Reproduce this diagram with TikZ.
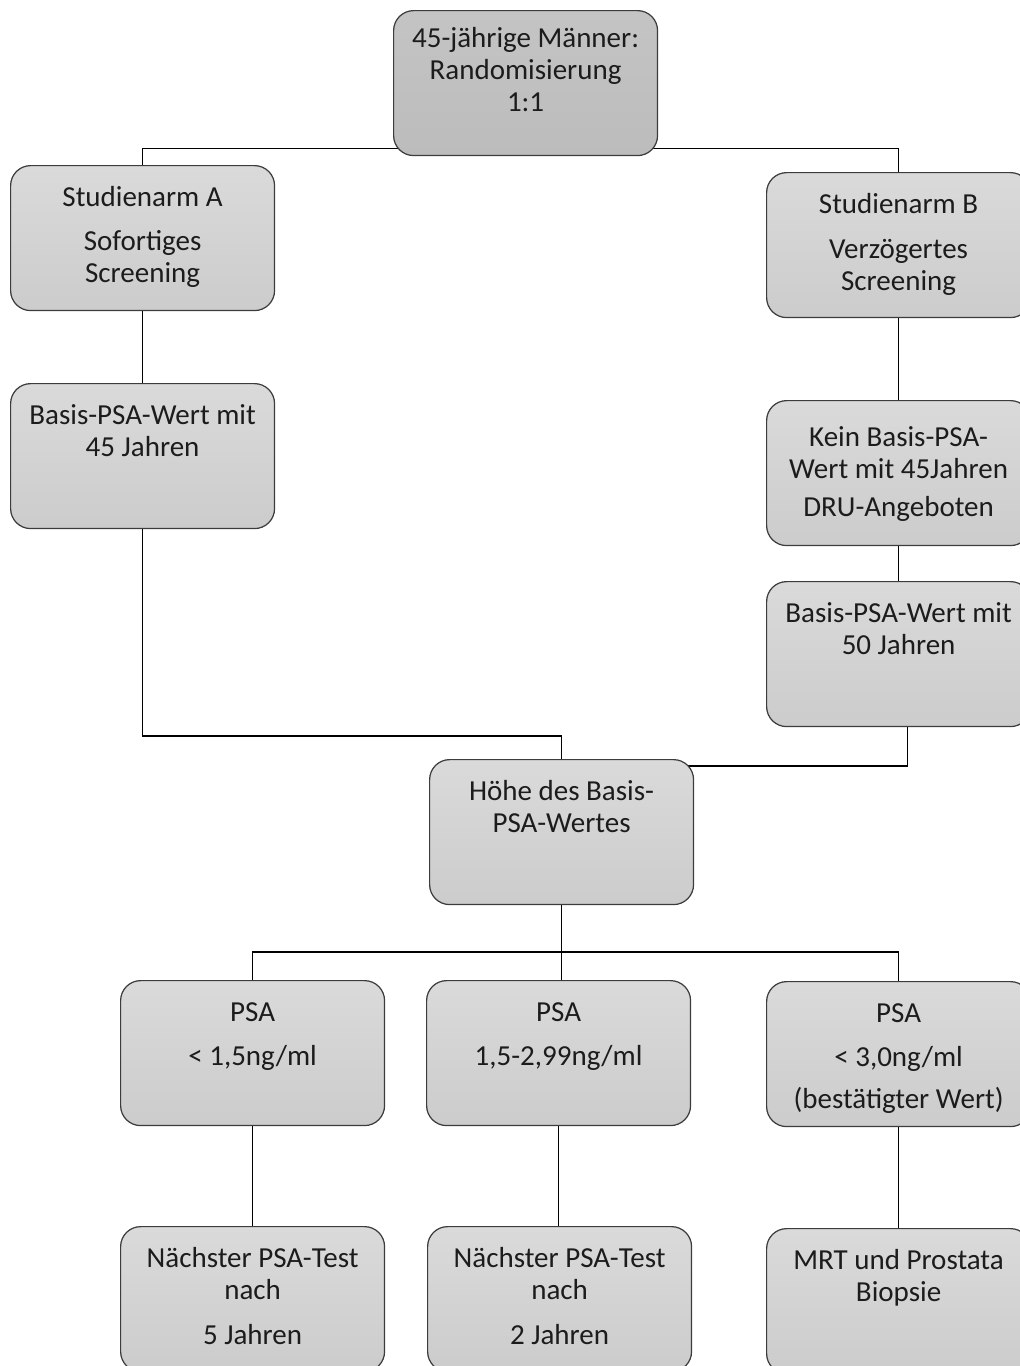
\documentclass[tikz,border=0pt]{standalone}
\usepackage{fontspec}
\setmainfont{Carlito}
\usepackage{tikz}
\usetikzlibrary{backgrounds}

\definecolor{boxtop}{RGB}{218,218,218}
\definecolor{boxbot}{RGB}{204,204,204}
\definecolor{headtop}{RGB}{196,196,196}
\definecolor{headbot}{RGB}{188,188,188}
\definecolor{boxline}{RGB}{60,60,60}
\definecolor{inktext}{RGB}{28,28,28}

% text block of a box: fixed size, lines start at the top
\newcommand{\boxlines}[2][0.82cm]{%
  \begin{minipage}[c][2.9cm][t]{5.28cm}\centering
  \fontsize{16.5pt}{18.2pt}\selectfont\rule{0pt}{#1}#2\end{minipage}}

\tikzset{
  flowbox/.style={draw=boxline, line width=0.7pt, rounded corners=0.4cm,
    top color=boxtop, bottom color=boxbot, inner sep=0pt, anchor=north west,
    text=inktext},
  headbox/.style={flowbox, top color=headtop, bottom color=headbot},
  link/.style={black, line width=0.7pt}
}

\begin{document}
\begin{tikzpicture}[x=0.02cm, y=-0.02cm]
        \useasboundingbox (0,0) rectangle (1019,1366);

        \node[headbox] (start) at (393,10) {\boxlines[0.74cm]{45-jährige Männer:\\Randomisierung\\1:1}};

        \node[flowbox] (armA) at (10,165) {\boxlines{Studienarm A\\[0.24cm]Sofortiges\\Screening}};
        \node[flowbox] (armB) at (766,172) {\boxlines{Studienarm B\\[0.26cm]Verzögertes\\Screening}};

        \node[flowbox] (base45) at (10,383) {\boxlines{Basis-PSA-Wert mit\\45 Jahren}};
        \node[flowbox] (nobase) at (766,400) {\boxlines[0.92cm]{Kein Basis-PSA-\\Wert mit 45Jahren\\[0.12cm]DRU-Angeboten}};
        \node[flowbox] (base50) at (766,581) {\boxlines{Basis-PSA-Wert mit\\50 Jahren}};

        \node[flowbox] (level) at (429,759) {\boxlines{Höhe des Basis-\\PSA-Wertes}};

        \node[flowbox] (psalow) at (120,980) {\boxlines{PSA\\[0.24cm]< 1,5ng/ml}};
        \node[flowbox] (psamid) at (426,980) {\boxlines{PSA\\[0.24cm]1,5-2,99ng/ml}};
        \node[flowbox] (psahigh) at (766,981) {\boxlines{PSA\\[0.24cm]< 3,0ng/ml\\[0.2cm](bestätigter Wert)}};

        \node[flowbox] (nextfive) at (120,1226) {\boxlines{Nächster PSA-Test\\nach\\[0.26cm]5 Jahren}};
        \node[flowbox] (nexttwo) at (427,1226) {\boxlines{Nächster PSA-Test\\nach\\[0.26cm]2 Jahren}};
        \node[flowbox] (biopsy) at (766,1228) {\boxlines{MRT und Prostata\\Biopsie}};

        \begin{scope}[on background layer]
        \draw[link] (armA.north) |- ([yshift=0.16cm]start.south) -| (armB.north);
        \draw[link] (armA.south) -- (armA.south |- base45.north);
        \draw[link] (armB.south) -- (nobase.north);
        \draw[link] (nobase.south) -- (base50.north);

        \draw[link] (base45.south) |- ([yshift=0.46cm]level.north) -- (level.north);
        \draw[link] ([xshift=0.18cm]base50.south) |- ([yshift=-0.14cm]level.north);

        \draw[link] (level.south) -- (level.south |- psamid.north);
        \draw[link] (psalow.north) |- ([yshift=0.56cm]psamid.north) -| (psahigh.north);

        \draw[link] (psalow.south) -- (nextfive.north);
        \draw[link] (psamid.south) -- (psamid.south |- nexttwo.north);
        \draw[link] (psahigh.south) -- (biopsy.north);
        \end{scope}

        \end{tikzpicture}
\end{document}
